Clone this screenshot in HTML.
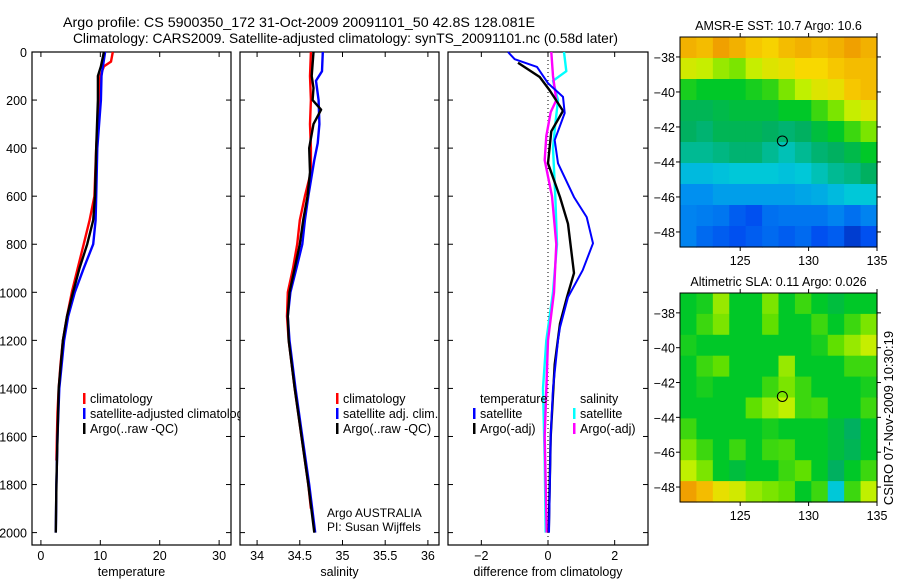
<!DOCTYPE html>
<html><head><meta charset="utf-8"><style>
html,body{margin:0;padding:0;background:#fff;}
svg{display:block;font-family:"Liberation Sans",sans-serif;}
</style></head><body>
<svg id="fig" width="900" height="580" viewBox="0 0 900 580" xmlns="http://www.w3.org/2000/svg">
<text x="63" y="27" font-size="14" textLength="472" lengthAdjust="spacingAndGlyphs">Argo profile: CS 5900350_172 31-Oct-2009 20091101_50 42.8S 128.081E</text>
<text x="73" y="43" font-size="14" textLength="545" lengthAdjust="spacingAndGlyphs">Climatology: CARS2009. Satellite-adjusted climatology: synTS_20091101.nc (0.58d later)</text>
<g id="g1"></g>
<g id="g2"></g>
<g id="g3"></g>
<g id="m1"></g>
<g id="m2"></g>
<text transform="translate(893,418) rotate(-90)" font-size="13" text-anchor="middle">CSIRO 07-Nov-2009 10:30:19</text>
</svg>
<script>
// ---- profile data ----
const tClimD=[0,40,60,100,200,400,600,700,800,900,1000,1100,1200,1300,1400,1500,1600,1700];
const tClim=[12.1,11.8,10.6,10,9.8,9.3,9.0,8.2,7.2,6.2,5.2,4.4,3.7,3.3,3.0,2.8,2.7,2.6];
const tSatD=[0,100,200,400,600,700,800,900,1000,1100,1200,1400,1600,1800,2000];
const tSat=[10.8,10.2,10.1,9.5,9.3,9.2,8.8,7.2,5.7,4.6,3.9,3.1,2.8,2.6,2.5];
const tArgoD=[0,60,100,200,400,600,700,800,900,1000,1100,1200,1400,1600,1800,2000];
const tArgo=[10.6,10.1,9.6,9.6,9.3,9.1,8.8,7.8,6.5,5.4,4.4,3.7,3.0,2.8,2.6,2.5];
const sClimD=[0,100,200,300,400,500,600,700,800,900,1000,1100,1200,1400,1600,1800,1900];
const sClim=[34.63,34.62,34.63,34.62,34.63,34.63,34.56,34.50,34.47,34.42,34.36,34.35,34.37,34.44,34.52,34.60,34.63];
const sSatD=[0,80,120,200,300,380,450,600,700,800,900,1000,1100,1200,1400,1600,1800,2000];
const sSat=[34.77,34.76,34.69,34.72,34.73,34.71,34.67,34.60,34.56,34.53,34.46,34.39,34.36,34.38,34.45,34.53,34.61,34.68];
const sArgoD=[0,100,150,200,240,300,400,500,600,700,800,900,1000,1100,1200,1400,1600,1800,2000];
const sArgo=[34.66,34.64,34.66,34.65,34.75,34.66,34.61,34.62,34.59,34.54,34.50,34.44,34.38,34.36,34.37,34.44,34.52,34.60,34.67];
const dTSatD=[0,30,62,130,187,254,367,463,604,687,796,908,1020,1146,1200,1400,1600,2000];
const dTSat=[-1.2,-1.0,-0.33,0,0.45,0.5,0.2,0.3,0.78,1.16,1.35,1.04,0.6,0.36,0.3,0.15,0.08,0.03];
const dTArgoD=[45,104,160,245,330,463,604,715,920,1020,1130,1300,1600,2000];
const dTArgo=[-0.9,-0.25,0.05,0.45,0.1,0.0,0.36,0.6,0.78,0.57,0.36,0.2,0.08,0.02];
const dSSatD=[0,80,120,200,300,400,600,800,1000,1200,1400,1700,2000];
const dSSat=[0.48,0.55,0.15,0.3,0.22,0.15,0.22,0.27,0.15,-0.05,-0.15,-0.1,-0.07];
const dSArgoD=[0,100,200,250,350,450,600,800,1000,1200,1600,2000];
const dSArgo=[0.1,0.15,0.25,0.08,-0.05,-0.1,0.12,0.25,0.18,0.0,-0.1,-0.04];
const depthTicks=[0,200,400,600,800,1000,1200,1400,1600,1800,2000];
const tTicks=[0,10,20,30];
const sTicks=[34,34.5,35,35.5,36];
const dTicks=[-2,0,2];
// ---- map data (colour index 0..1) ----
const sstGrid=[
[.82,.8,.85,.82,.78,.76,.8,.82,.8,.82,.85,.82],
[.68,.66,.62,.6,.66,.7,.72,.75,.75,.78,.8,.8],
[.52,.5,.5,.5,.52,.54,.6,.65,.7,.72,.78,.8],
[.46,.46,.47,.48,.48,.48,.5,.5,.55,.6,.66,.7],
[.45,.44,.46,.46,.46,.45,.44,.45,.48,.5,.55,.6],
[.42,.42,.43,.44,.44,.42,.40,.42,.44,.45,.47,.5],
[.36,.36,.37,.38,.38,.38,.37,.38,.40,.42,.43,.45],
[.3,.3,.32,.32,.32,.32,.32,.33,.34,.36,.38,.38],
[.28,.27,.26,.22,.2,.25,.26,.26,.26,.28,.25,.28],
[.28,.24,.22,.2,.22,.24,.22,.24,.2,.22,.12,.2]];
const slaGrid=[
[.5,.52,.62,.5,.5,.6,.5,.55,.5,.48,.5,.5],
[.5,.55,.6,.5,.5,.58,.5,.5,.55,.5,.55,.6],
[.52,.5,.5,.5,.5,.5,.5,.5,.52,.58,.62,.66],
[.5,.55,.58,.5,.5,.5,.62,.5,.5,.5,.55,.55],
[.5,.52,.5,.5,.5,.55,.6,.55,.5,.5,.5,.52],
[.5,.5,.5,.5,.58,.62,.65,.55,.56,.5,.5,.55],
[.55,.5,.5,.5,.5,.52,.5,.5,.5,.48,.45,.5],
[.6,.55,.5,.55,.5,.55,.56,.5,.5,.48,.46,.5],
[.65,.6,.5,.48,.5,.5,.55,.58,.5,.45,.5,.55],
[.85,.8,.72,.68,.62,.6,.58,.5,.55,.38,.55,.65]];
const lonTicks=[125,130,135];
const latTicks=[-38,-40,-42,-44,-46,-48];
const argoLon=128.081, argoLat=-42.8;

const NS='http://www.w3.org/2000/svg';
function mk(parent,tag,attrs,text){const e=document.createElementNS(NS,tag);for(const k in attrs)e.setAttribute(k,attrs[k]);if(text!==undefined)e.textContent=text;parent.appendChild(e);return e;}
const TOP=52,BOT=545;
const yD=d=>TOP+d*0.2403;

function panel(g,x0,x1,xmin,xmax,xt,fmt,label,ylabels,name){
  const xs=v=>x0+(v-xmin)/(xmax-xmin)*(x1-x0);
  const r=mk(g,'rect',{x:x0,y:TOP,width:x1-x0,height:BOT-TOP,fill:'#fff',stroke:'#000','stroke-width':1.2});
  
  
  xt.forEach(v=>{const x=xs(v);
    mk(g,'line',{x1:x,y1:BOT,x2:x,y2:BOT-5,stroke:'#000'});
    mk(g,'line',{x1:x,y1:TOP,x2:x,y2:TOP+5,stroke:'#000'});
    const t=mk(g,'text',{x:x,y:BOT+15,'font-size':12.5,'text-anchor':'middle'},fmt(v));
    
    });
  depthTicks.forEach(d=>{const y=yD(d);
    mk(g,'line',{x1:x0,y1:y,x2:x0+5,y2:y,stroke:'#000'});
    mk(g,'line',{x1:x1,y1:y,x2:x1-5,y2:y,stroke:'#000'});
    if(ylabels){const t=mk(g,'text',{x:x0-5,y:y+5,'font-size':12.5,'text-anchor':'end'},String(d));
      
      }});
  const l=mk(g,'text',{x:(x0+x1)/2,y:576,'font-size':12.5,'text-anchor':'middle'},label);
  
  
  return xs;
}
function line(g,xs,vals,deps,col,name,w){
  const pts=vals.map((v,i)=>xs(v).toFixed(1)+','+yD(deps[i]).toFixed(1)).join(' ');
  const p=mk(g,'polyline',{points:pts,fill:'none',stroke:col,'stroke-width':w||2.4,'stroke-linejoin':'round'});
  
  
}
function legend(g,x,y,items){
  items.forEach((it,i)=>{const yy=y+i*15;
    if(it.c)mk(g,'rect',{x:x,y:yy-9,width:2.5,height:11,fill:it.c});
    const t=mk(g,'text',{x:x+7,y:yy+1,'font-size':12.5},it.t);
    
    });
}
// panel 1
const g1=document.getElementById('g1');
const x1s=panel(g1,32,231,-1.5,32,tTicks,v=>String(v),'temperature',true,'temperature');
line(g1,x1s,tClim,tClimD,'#f00','temp-climatology-line');
line(g1,x1s,tSat,tSatD,'#00f','temp-satellite-line');
line(g1,x1s,tArgo,tArgoD,'#000','temp-argo-line');
const cp=mk(g1,'clipPath',{id:'cp1'});
mk(cp,'rect',{x:32,y:52,width:208,height:500});
const lg1=mk(g1,'g',{'clip-path':'url(#cp1)'});
legend(lg1,83,402,[{c:'#f00',t:'climatology'},{c:'#00f',t:'satellite-adjusted climatology'},{c:'#000',t:'Argo(..raw -QC)'}]);
// panel 2
const g2=document.getElementById('g2');
const x2s=panel(g2,240,439,33.8,36.13,sTicks,v=>String(v),'salinity',false,'salinity');
line(g2,x2s,sClim,sClimD,'#f00','sal-climatology-line');
line(g2,x2s,sSat,sSatD,'#00f','sal-satellite-line');
line(g2,x2s,sArgo,sArgoD,'#000','sal-argo-line');
legend(g2,336,402,[{c:'#f00',t:'climatology'},{c:'#00f',t:'satellite adj. clim.'},{c:'#000',t:'Argo(..raw -QC)'}]);
let t=mk(g2,'text',{x:327,y:517,'font-size':12},'Argo AUSTRALIA');
t=mk(g2,'text',{x:327,y:531,'font-size':12},'PI: Susan Wijffels');
// panel 3
const g3=document.getElementById('g3');
const x3s=panel(g3,448,648,-3,3,dTicks,v=>v<0?'\u2212'+Math.abs(v):String(v),'difference from climatology',false,'difference');
mk(g3,'line',{x1:x3s(0),y1:TOP,x2:x3s(0),y2:BOT,stroke:'#000','stroke-dasharray':'1,3'});
line(g3,x3s,dSSat,dSSatD,'#0ff','dsal-satellite-line');
line(g3,x3s,dSArgo,dSArgoD,'#f0f','dsal-argo-line');
line(g3,x3s,dTArgo,dTArgoD,'#000','dtemp-argo-line');
line(g3,x3s,dTSat,dTSatD,'#00f','dtemp-satellite-line',2);
legend(g3,473,402,[{c:null,t:'temperature'},{c:'#00f',t:'satellite'},{c:'#000',t:'Argo(-adj)'}]);
legend(g3,573,402,[{c:null,t:'salinity'},{c:'#0ff',t:'satellite'},{c:'#f0f',t:'Argo(-adj)'}]);

// maps
const stops=[[0,[0,32,160]],[0.2,[0,80,240]],[0.3,[0,144,240]],[0.38,[0,200,216]],[0.45,[0,176,96]],[0.5,[0,200,40]],[0.58,[96,224,0]],[0.65,[192,240,0]],[0.75,[248,216,0]],[0.85,[240,160,0]],[0.95,[208,96,0]],[1,[200,60,0]]];
function cmap(v){for(let i=1;i<stops.length;i++){if(v<=stops[i][0]){const a=stops[i-1],b=stops[i],f=(v-a[0])/(b[0]-a[0]);
  return 'rgb('+a[1].map((c,k)=>Math.round(c+(b[1][k]-c)*f)).join(',')+')';}}return 'rgb(200,60,0)';}
function map(g,x0,y0,x1,y1,grid,title,name){
  const lonMin=120.6,lonMax=135,latTop=-36.86,latBot=-48.86;
  const lx=v=>x0+(v-lonMin)/(lonMax-lonMin)*(x1-x0);
  const ly=v=>y0+(latTop-v)/(latTop-latBot)*(y1-y0);
  const R=grid.length,C=grid[0].length,cw=(x1-x0)/C,ch=(y1-y0)/R;
  grid.forEach((row,i)=>row.forEach((v,j)=>{
    const c=mk(g,'rect',{x:(x0+j*cw).toFixed(2),y:(y0+i*ch).toFixed(2),width:(cw+0.6).toFixed(2),height:(ch+0.6).toFixed(2),fill:cmap(v)});
    
    }));
  mk(g,'rect',{x:x0,y:y0,width:x1-x0,height:y1-y0,fill:'none',stroke:'#000'});
  lonTicks.forEach(v=>{const x=lx(v);mk(g,'line',{x1:x,y1:y1,x2:x,y2:y1+4,stroke:'#000'});mk(g,'line',{x1:x,y1:y0,x2:x,y2:y0-4,stroke:'#000'});
    const t=mk(g,'text',{x:x,y:y1+18,'font-size':12.5,'text-anchor':'middle'},String(v));});
  latTicks.forEach(v=>{const y=ly(v);mk(g,'line',{x1:x0,y1:y,x2:x0-4,y2:y,stroke:'#000'});mk(g,'line',{x1:x1,y1:y,x2:x1+4,y2:y,stroke:'#000'});
    const t=mk(g,'text',{x:x0-5,y:y+5,'font-size':12.5,'text-anchor':'end'},'\u2212'+Math.abs(v));});
  const tt=mk(g,'text',{x:(x0+x1)/2,y:y0-7,'font-size':12.5,'text-anchor':'middle'},title);
  
  const m=mk(g,'circle',{cx:lx(argoLon),cy:ly(argoLat),r:5,fill:'none',stroke:'#000','stroke-width':1});
  
}
map(document.getElementById('m1'),680,37,877,247,sstGrid,'AMSR-E SST: 10.7 Argo: 10.6','sst');
map(document.getElementById('m2'),680,293,877,502,slaGrid,'Altimetric SLA: 0.11  Argo: 0.026','sla');
</script>
</body></html>
